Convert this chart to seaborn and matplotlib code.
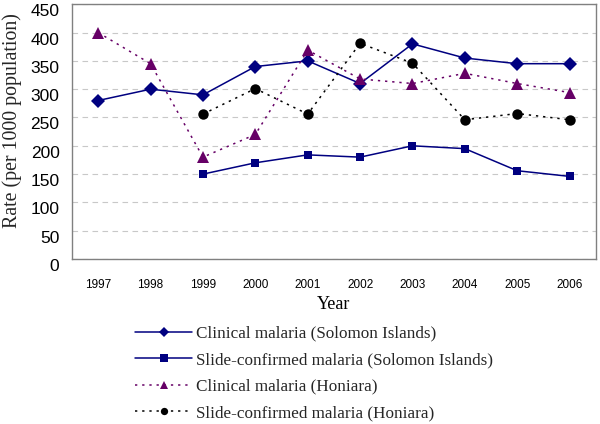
import numpy as np
import pandas as pd
import matplotlib
matplotlib.use('Agg')
import matplotlib.pyplot as plt
import matplotlib.transforms as mtransforms
import seaborn as sns

years = [1997, 1998, 1999, 2000, 2001, 2002, 2003, 2004, 2005, 2006]
clinical_si = [280, 300, 290, 340, 350, 310, 380, 355, 345, 345]
slide_si = [np.nan, np.nan, 150, 170, 184, 180, 200, 195, 156, 146]
clinical_hon = [400, 345, 180, 220, 369, 318, 310, 328, 310, 294]
slide_hon = [np.nan, np.nan, 256, 301, 256, 381, 346, 246, 257, 246]

series = {
    'Clinical malaria (Solomon Islands)': clinical_si,
    'Slide-confirmed malaria (Solomon Islands)': slide_si,
    'Clinical malaria (Honiara)': clinical_hon,
    'Slide-confirmed malaria (Honiara)': slide_hon,
}
names = list(series.keys())

df = pd.DataFrame({'Year': years, **series})
df = df.melt(id_vars='Year', var_name='series', value_name='rate').dropna()

palette = {names[0]: '#000080', names[1]: '#000080',
           names[2]: '#660066', names[3]: '#000000'}
markers = {names[0]: 'D', names[1]: 's', names[2]: '^', names[3]: 'o'}
dashes = {names[0]: '', names[1]: '', names[2]: (1.5, 3.2), names[3]: (1.5, 3.2)}
msizes = [7, 6, 8, 7.5]

sns.set_style('white')
fig = plt.figure(figsize=(6, 4.24), dpi=100)
ax = fig.add_axes([0.12, 0.389, 0.873, 0.601])

sns.lineplot(data=df, x='Year', y='rate', hue='series', style='series',
             hue_order=names, style_order=names, palette=palette,
             markers=markers, dashes=dashes, markersize=7, linewidth=1.1,
             markeredgewidth=0, ax=ax, legend='full')
for line, ms in zip(ax.lines[:4], msizes):
    line.set_markersize(ms)

ax.set_xlim(1996.5, 2006.5)
ax.set_ylim(0, 450)
ax.set_yticks(range(0, 451, 50))
ax.set_xticks(years)
ax.set_xticks(np.arange(1997.5, 2006, 1), minor=True)
ax.tick_params(axis='x', which='major', length=0, pad=14, labelsize=8.5)
ax.tick_params(axis='x', which='minor', length=4, direction='in', color='#808080')
ax.tick_params(axis='y', length=0, pad=9, labelsize=12.5)
shift = mtransforms.ScaledTranslation(0, -0.06, fig.dpi_scale_trans)
for lab in ax.get_yticklabels():
    lab.set_transform(lab.get_transform() + shift)
for lab in ax.get_xticklabels() + ax.get_yticklabels():
    lab.set_family('Liberation Sans')
    lab.set_color('black')
ax.yaxis.grid(True, linestyle=(0, (5, 4)), color='#c8c8c8', linewidth=0.8)
for s in ax.spines.values():
    s.set_color('#808080')
    s.set_linewidth(1.0)

ax.set_xlabel('Year', family='Liberation Serif', fontsize=13, labelpad=4, color='black')
ax.set_ylabel('')
fig.text(0.021, 1 - 228 / 424, 'Rate (per 1000 population)', rotation=90,
         ha='center', va='bottom', family='Liberation Serif', fontsize=14.3)

handles, labels = ax.get_legend_handles_labels()
ax.legend_.remove()
fig.legend(handles, labels, loc='upper left', bbox_to_anchor=(0.2, 0.245 + 10 / 424),
           frameon=False, prop={'family': 'Liberation Serif', 'size': 12.3},
           handlelength=3.3, handletextpad=0.25, labelspacing=0.62, markerscale=0.75)

fig.savefig('out.png', dpi=100)
